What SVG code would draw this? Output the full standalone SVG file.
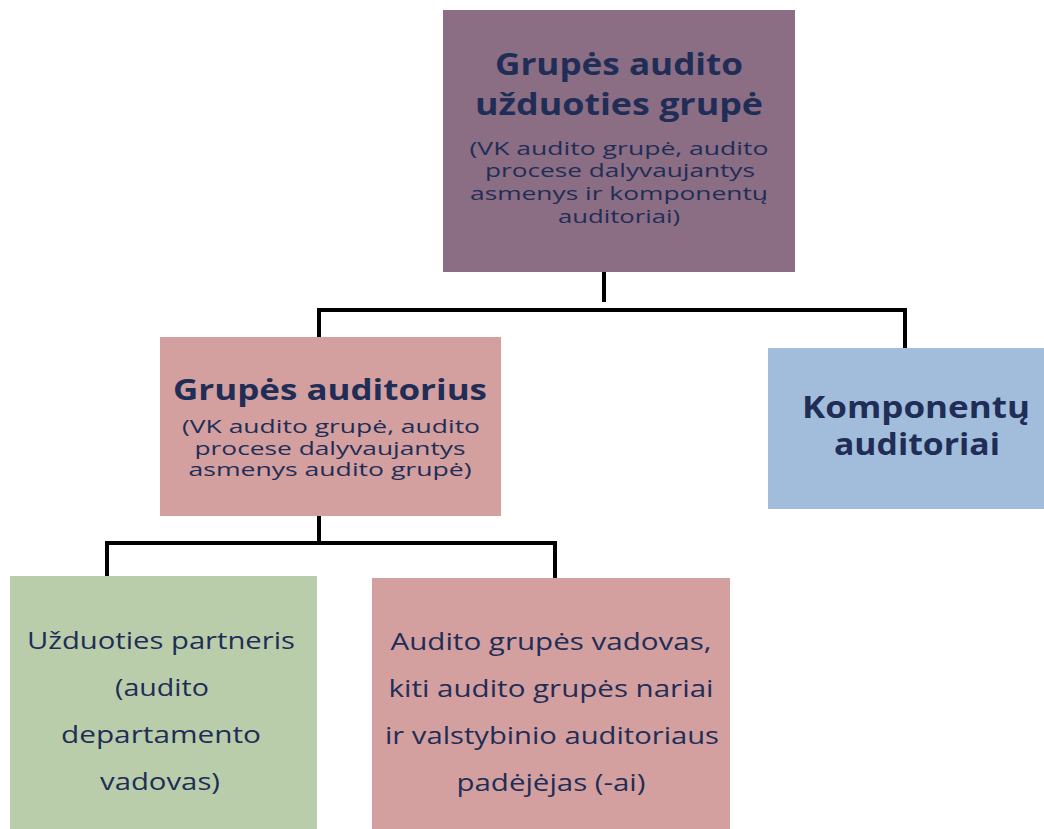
<svg xmlns="http://www.w3.org/2000/svg" width="1044" height="829" viewBox="0 0 1044 829">
<style>
  text { font-family: "Open Sans", "Noto Sans", "DejaVu Sans", sans-serif; fill: #1f2d57; text-anchor: middle; }
  .t { font-weight: 700; font-size: 31px; }
  .t2 { font-weight: 700; font-size: 28px; }
  .s { font-size: 19px; }
  .b { font-size: 23.5px; }
  .conn { fill: none; stroke: #000; stroke-width: 4; }
</style>
<rect width="1044" height="829" fill="#fff"/>
<g id="connectors">
  <line class="conn" x1="604" y1="272" x2="604" y2="302"/>
  <polyline class="conn" points="319,342 319,310 905,310 905,348"/>
  <line class="conn" x1="319" y1="516" x2="319" y2="543"/>
  <polyline class="conn" points="107,576 107,543 555,543 555,578"/>
</g>
<g id="node-top">
  <rect x="443" y="10" width="352" height="262" fill="#8b6d84"/>
  <text class="t" x="619" y="75" textLength="248" lengthAdjust="spacingAndGlyphs">Grupės audito</text>
  <text class="t" x="619" y="115" textLength="288" lengthAdjust="spacingAndGlyphs">užduoties grupė</text>
  <text class="s" x="619" y="155" textLength="299" lengthAdjust="spacingAndGlyphs">(VK audito grupė, audito</text>
  <text class="s" x="620" y="177" textLength="270" lengthAdjust="spacingAndGlyphs">procese dalyvaujantys</text>
  <text class="s" x="619" y="200" textLength="298" lengthAdjust="spacingAndGlyphs">asmenys ir komponentų</text>
  <text class="s" x="619" y="223" textLength="122" lengthAdjust="spacingAndGlyphs">auditoriai)</text>
</g>
<g id="node-group-auditor">
  <rect x="160" y="337" width="341" height="179" fill="#d3a09f"/>
  <text class="t2" x="330" y="400" textLength="314" lengthAdjust="spacingAndGlyphs">Grupės auditorius</text>
  <text class="s" x="331" y="433" textLength="298" lengthAdjust="spacingAndGlyphs">(VK audito grupė, audito</text>
  <text class="s" x="330" y="455" textLength="271" lengthAdjust="spacingAndGlyphs">procese dalyvaujantys</text>
  <text class="s" x="330" y="476" textLength="283" lengthAdjust="spacingAndGlyphs">asmenys audito grupė)</text>
</g>
<g id="node-component">
  <rect x="768" y="348" width="276" height="161" fill="#a2bddb"/>
  <text class="t" x="916" y="418" textLength="228" lengthAdjust="spacingAndGlyphs">Komponentų</text>
  <text class="t" x="917" y="455" textLength="166" lengthAdjust="spacingAndGlyphs">auditoriai</text>
</g>
<g id="node-partner">
  <rect x="10" y="576" width="307" height="253" fill="#b9cdaa"/>
  <text class="b" x="161" y="649" textLength="268" lengthAdjust="spacingAndGlyphs">Užduoties partneris</text>
  <text class="b" x="162" y="696" textLength="94" lengthAdjust="spacingAndGlyphs">(audito</text>
  <text class="b" x="161" y="743" textLength="200" lengthAdjust="spacingAndGlyphs">departamento</text>
  <text class="b" x="160" y="790" textLength="120" lengthAdjust="spacingAndGlyphs">vadovas)</text>
</g>
<g id="node-team">
  <rect x="372" y="578" width="358" height="251" fill="#d3a09f"/>
  <text class="b" x="551" y="650" textLength="321" lengthAdjust="spacingAndGlyphs">Audito grupės vadovas,</text>
  <text class="b" x="551" y="697" textLength="325" lengthAdjust="spacingAndGlyphs">kiti audito grupės nariai</text>
  <text class="b" x="552" y="744" textLength="334" lengthAdjust="spacingAndGlyphs">ir valstybinio auditoriaus</text>
  <text class="b" x="551" y="791" textLength="189" lengthAdjust="spacingAndGlyphs">padėjėjas (-ai)</text>
</g>
</svg>
